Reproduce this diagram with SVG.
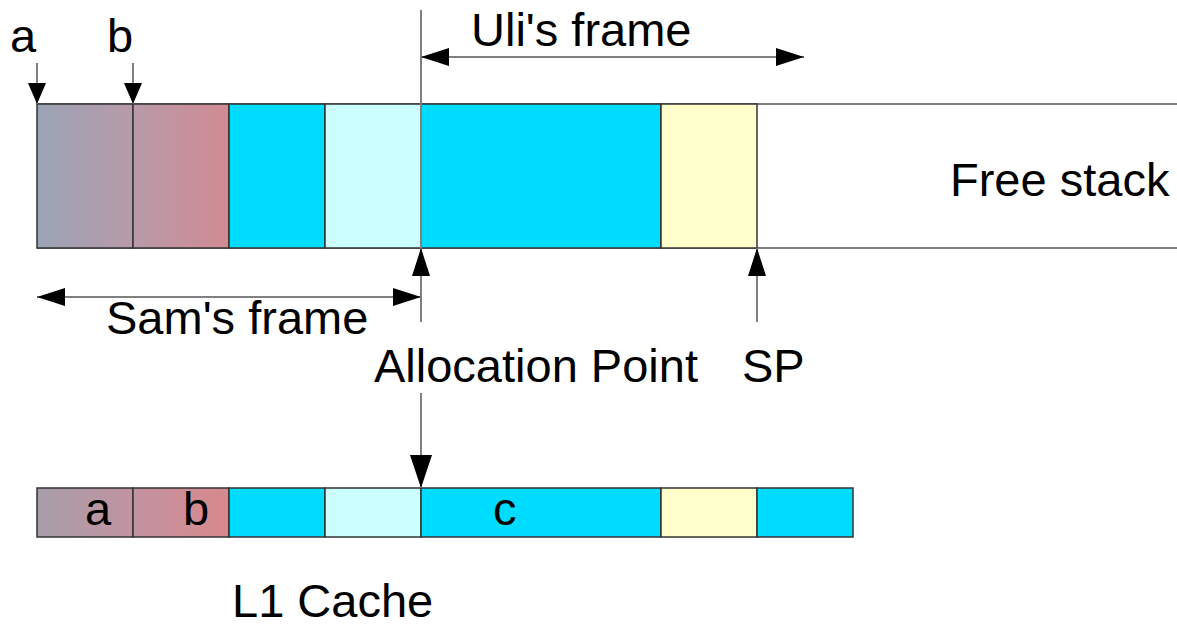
<svg xmlns="http://www.w3.org/2000/svg" width="1177" height="626" viewBox="0 0 1177 626">
  <style>
    .lbl { font-family: "Liberation Sans", Arial, sans-serif; font-size: 47px; fill: #000; }
    .cell { stroke: #333; stroke-width: 1.5; }
    .line { stroke: #808080; stroke-width: 2; fill: none; }
    .cyan { fill: #00DCFF; }
    .pale { fill: #CCFFFF; }
    .yel { fill: #FFFFCC; }
  </style>
  <defs>
    <linearGradient id="gradTop" gradientUnits="userSpaceOnUse" x1="37" y1="0" x2="229" y2="0">
      <stop offset="0" stop-color="#9AA4B6"/>
      <stop offset="0.5" stop-color="#B89AA8"/>
      <stop offset="1" stop-color="#D28B92"/>
    </linearGradient>
    <linearGradient id="gradBot" gradientUnits="userSpaceOnUse" x1="37" y1="0" x2="229" y2="0">
      <stop offset="0" stop-color="#A89EAA"/>
      <stop offset="0.5" stop-color="#C293A0"/>
      <stop offset="1" stop-color="#D8898C"/>
    </linearGradient>
    <marker id="head" viewBox="0 0 28 18" refX="28" refY="9" markerWidth="28" markerHeight="18" markerUnits="userSpaceOnUse" orient="auto-start-reverse">
      <path d="M0,0 L28,9 L0,18 Z" fill="#000"/>
    </marker>
    <marker id="headLong" viewBox="0 0 33 22" refX="33" refY="11" markerWidth="33" markerHeight="22" markerUnits="userSpaceOnUse" orient="auto">
      <path d="M0,0 L33,11 L0,22 Z" fill="#000"/>
    </marker>
    <marker id="headSmall" viewBox="0 0 21 18" refX="21" refY="9" markerWidth="21" markerHeight="18" markerUnits="userSpaceOnUse" orient="auto">
      <path d="M0,0 L21,9 L0,18 Z" fill="#000"/>
    </marker>
  </defs>

  <!-- stack in memory -->
  <g id="stack">
    <line class="line" x1="37" y1="104" x2="1177" y2="104"/>
    <line class="line" x1="37" y1="248" x2="1177" y2="248"/>
    <rect class="cell" x="37" y="104" width="96" height="144" fill="url(#gradTop)"/>
    <rect class="cell" x="133" y="104" width="96" height="144" fill="url(#gradTop)"/>
    <rect class="cell cyan" x="229" y="104" width="96" height="144"/>
    <rect class="cell pale" x="325" y="104" width="96" height="144"/>
    <rect class="cell cyan" x="421" y="104" width="240" height="144"/>
    <rect class="cell yel" x="661" y="104" width="96" height="144"/>
    <text class="lbl" x="950" y="196">Free stack</text>
  </g>

  <!-- cache line copy -->
  <g id="cache">
    <rect class="cell" x="37" y="488" width="96" height="49" fill="url(#gradBot)"/>
    <rect class="cell" x="133" y="488" width="96" height="49" fill="url(#gradBot)"/>
    <rect class="cell cyan" x="229" y="488" width="96" height="49"/>
    <rect class="cell pale" x="325" y="488" width="96" height="49"/>
    <rect class="cell cyan" x="421" y="488" width="240" height="49"/>
    <rect class="cell yel" x="661" y="488" width="96" height="49"/>
    <rect class="cell cyan" x="757" y="488" width="96" height="49"/>
    <text class="lbl" x="85" y="525">a</text>
    <text class="lbl" x="183" y="525">b</text>
    <text class="lbl" x="493" y="525">c</text>
    <text class="lbl" x="232" y="617">L1 Cache</text>
  </g>

  <g id="labels">
    <text class="lbl" x="10" y="52">a</text>
    <text class="lbl" x="107" y="52">b</text>
    <text class="lbl" x="471" y="46">Uli's frame</text>
    <text class="lbl" x="106" y="334">Sam's frame</text>
    <text class="lbl" x="374" y="382">Allocation Point</text>
    <text class="lbl" x="742" y="382">SP</text>
  </g>

  <!-- connectors -->
  <g id="connectors">
    <line class="line" x1="421" y1="10" x2="421" y2="248"/>
    <line class="line" x1="421" y1="322" x2="421" y2="248" marker-end="url(#head)"/>
    <line class="line" x1="757" y1="322" x2="757" y2="248" marker-end="url(#head)"/>
    <line class="line" x1="37" y1="63" x2="37" y2="104" marker-end="url(#headSmall)"/>
    <line class="line" x1="133" y1="63" x2="133" y2="104" marker-end="url(#headSmall)"/>
    <line class="line" x1="421" y1="57" x2="804" y2="57" marker-start="url(#head)" marker-end="url(#head)"/>
    <line class="line" x1="37" y1="297" x2="421" y2="297" marker-start="url(#head)" marker-end="url(#head)"/>
    <line class="line" x1="421" y1="393" x2="421" y2="488" marker-end="url(#headLong)"/>
  </g>
</svg>
